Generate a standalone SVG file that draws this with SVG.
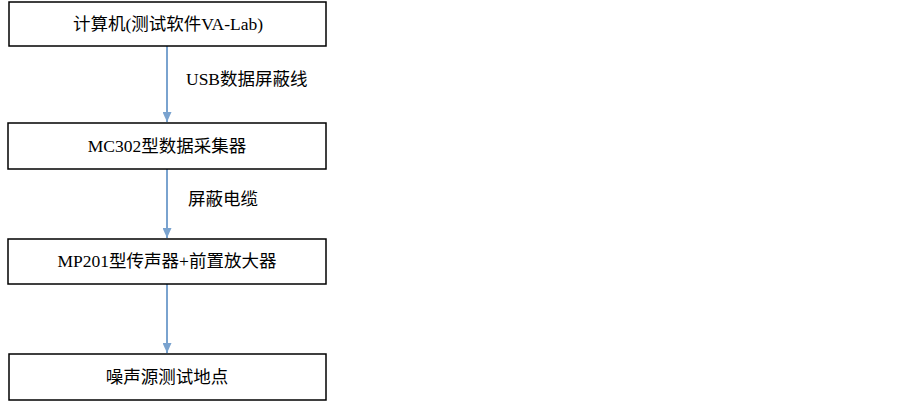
<svg xmlns="http://www.w3.org/2000/svg" width="903" height="403" viewBox="0 0 903 403">
<style>
.box{fill:#fff;stroke:#000;stroke-width:1.5}
.t{font-family:"Liberation Serif","Noto Sans CJK SC",serif;font-size:17.5px;fill:#000;text-anchor:middle}
.l{font-family:"Liberation Serif","Noto Sans CJK SC",serif;font-size:17.5px;fill:#000}
.c{stroke:#7aa3cf;stroke-width:2;fill:none;marker-end:url(#ah)}
</style>
<defs>
<marker id="ah" viewBox="0 0 10 10" refX="10" refY="5" markerWidth="5" markerHeight="4.5" markerUnits="strokeWidth" orient="auto" preserveAspectRatio="none">
<path d="M0,0 L10,5 L0,10 z" fill="#7aa3cf"/>
</marker>
</defs>
<rect width="903" height="403" fill="#fff"/>
<g id="connectors">
<line class="c" x1="167" y1="46" x2="167" y2="122"/>
<line class="c" x1="167" y1="169" x2="167" y2="238"/>
<line class="c" x1="167" y1="284" x2="167" y2="353"/>
<text class="l" x="186" y="85">USB数据屏蔽线</text>
<text class="l" x="188" y="205">屏蔽电缆</text>
</g>
<g id="n1"><rect class="box" x="9" y="2" width="317" height="44"/><text class="t" x="168" y="30">计算机(测试软件VA-Lab)</text></g>
<g id="n2"><rect class="box" x="8" y="123" width="318" height="46"/><text class="t" x="167" y="152">MC302型数据采集器</text></g>
<g id="n3"><rect class="box" x="8" y="239" width="318" height="45"/><text class="t" x="167" y="267">MP201型传声器+前置放大器</text></g>
<g id="n4"><rect class="box" x="9" y="354" width="317" height="46"/><text class="t" x="167" y="383">噪声源测试地点</text></g>
</svg>
